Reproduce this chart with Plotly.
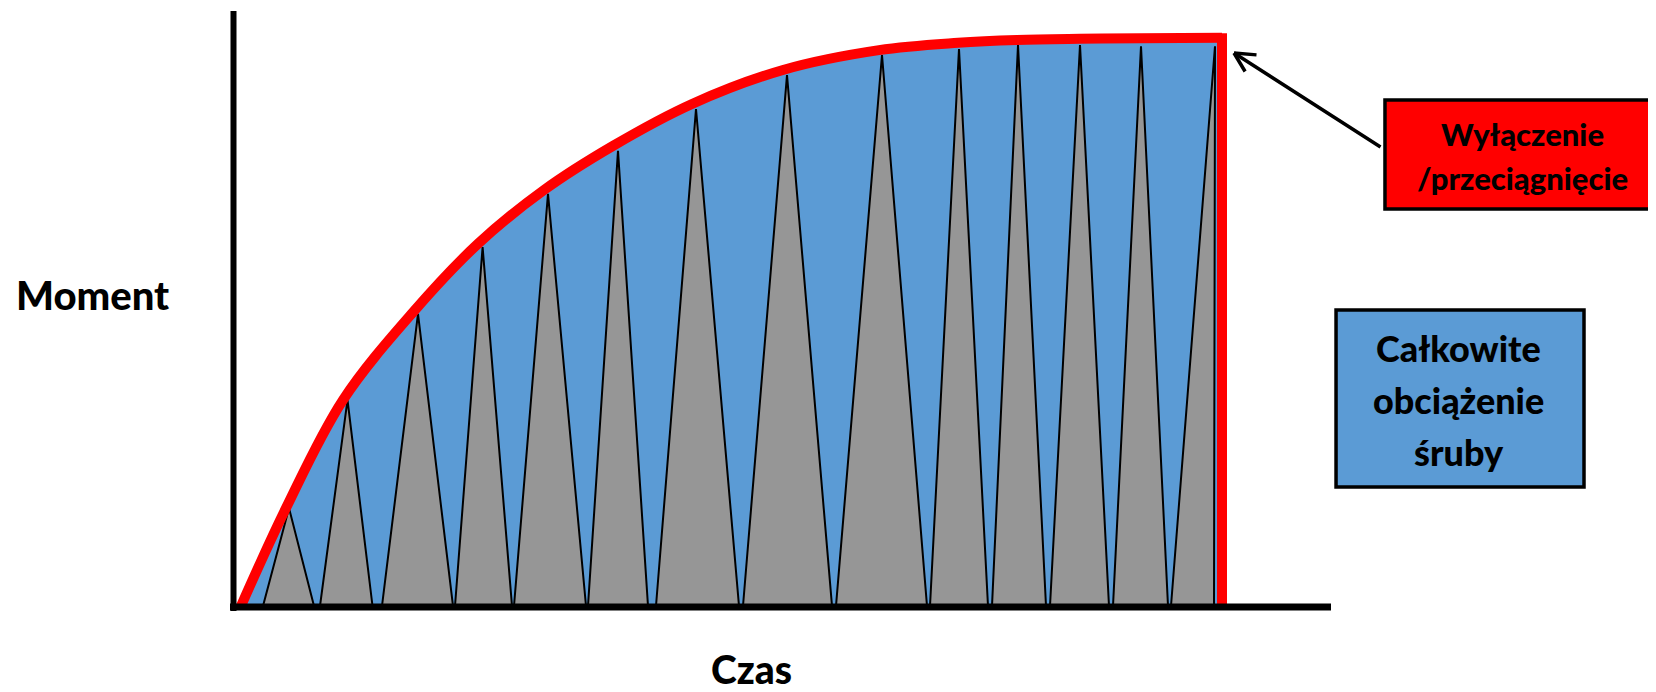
import plotly.graph_objects as go

# ---- Data (time in arbitrary units, moment in % of final torque) ----
# Envelope: total bolt load (red curve)
envelope_t = [0.5, 5.0, 10.7, 17.8, 24.2, 30.8, 37.7, 45.6, 54.7, 64.3, 72.2, 78.1, 84.4, 90.5, 98.6]
envelope_m = [0.0, 17.3, 36.4, 52.1, 64.0, 73.5, 81.3, 88.7, 94.7, 98.2, 99.5, 100.0, 100.2, 100.3, 100.4]
shutoff_t = 98.6
shutoff_top = 101.2

# Impact pulses (grey triangles)
pulse_start = [2.7, 8.4, 14.6, 21.9, 27.8, 35.2, 42.0, 50.7, 60.0, 69.4, 75.6, 81.4, 87.7, 93.5]
pulse_peak_t = [5.3, 11.15, 18.2, 24.66, 31.2, 38.2, 46.0, 55.1, 64.6, 72.3, 78.2, 84.4, 90.5, 97.9]
pulse_peak_m = [17.3, 36.4, 51.6, 63.4, 72.8, 80.4, 87.8, 93.8, 97.35, 98.4, 99.1, 99.1, 98.9, 98.9]
pulse_end = [7.8, 13.65, 21.7, 27.6, 35.0, 41.2, 50.3, 59.6, 69.1, 75.2, 81.0, 87.3, 93.2, 97.8]

# Text
y_label = "Moment"
x_label = "Czas"
shutoff_label = ["Wyłączenie", "/przeciągnięcie"]
load_label = ["Całkowite", "obciążenie", "śruby"]

BLUE = "#5B9BD5"
GREY = "#969696"
RED = "#FF0000"
FONT = "Lato"

fig = go.Figure()

# Blue area under the envelope
fig.add_trace(go.Scatter(
    x=envelope_t, y=envelope_m, mode="lines", fill="tozeroy",
    fillcolor=BLUE, line=dict(width=0, shape="spline", color=BLUE),
    hoverinfo="skip"))

# Grey triangles
for s, pt, pm, e in zip(pulse_start, pulse_peak_t, pulse_peak_m, pulse_end):
    fig.add_trace(go.Scatter(
        x=[s, pt, e, s], y=[0, pm, 0, 0], mode="lines", fill="toself",
        fillcolor=GREY, line=dict(color="black", width=2),
        hoverinfo="skip"))

# Red envelope line and shut-off line
fig.add_trace(go.Scatter(
    x=envelope_t, y=envelope_m, mode="lines",
    line=dict(color=RED, width=10, shape="spline"), hoverinfo="skip"))
fig.add_trace(go.Scatter(
    x=[shutoff_t, shutoff_t], y=[shutoff_top, 0], mode="lines",
    line=dict(color=RED, width=10), hoverinfo="skip"))

# Axes drawn as thick black lines
shapes = [
    dict(type="line", xref="x", yref="y", x0=-0.6, x1=109.5, y0=-0.18, y1=-0.18,
         line=dict(color="black", width=7), layer="above"),
    dict(type="line", xref="x", yref="y", x0=-0.25, x1=-0.25, y0=-0.9, y1=105.1,
         line=dict(color="black", width=6), layer="above"),
    # red label box
    dict(type="rect", xref="paper", yref="paper", x0=1.0348, x1=1.2741, y0=0.6672, y1=0.8477,
         fillcolor=RED, line=dict(color="black", width=3.5)),
    # blue label box
    dict(type="rect", xref="paper", yref="paper", x0=0.9911, x1=1.2125, y0=0.207, y1=0.5,
         fillcolor=BLUE, line=dict(color="black", width=3.5)),
]

# arrow pointing at the shut-off point (shaft + two open arms)
head_t, head_m = 99.8, 97.7
arrow_parts = [(148, 95), (24, 2), (12, 20)]

annotations = [
    dict(text=y_label, xref="paper", yref="paper", x=-0.1192, y=0.5248,
         xanchor="center", yanchor="middle", showarrow=False,
         font=dict(family=FONT, size=40, color="black", weight=900)),
    dict(text=x_label, xref="paper", yref="paper", x=0.46875, y=-0.0944,
         xanchor="center", yanchor="middle", showarrow=False,
         font=dict(family=FONT, size=39, color="black", weight=900)),
]
for axp, ayp in arrow_parts:
    annotations.append(dict(text="", x=head_t, y=head_m, xref="x", yref="y", ax=axp, ay=ayp,
                            showarrow=True, arrowhead=0, arrowwidth=3.5, arrowcolor="black"))
for txt, yp in zip(shutoff_label, [0.7915, 0.7185]):
    annotations.append(dict(text=txt, xref="paper", yref="paper", x=1.158, y=yp,
                            xanchor="center", yanchor="middle", showarrow=False,
                            font=dict(family=FONT, size=31, color="black", weight=900)))
for txt, yp in zip(load_label, [0.437, 0.351, 0.265]):
    annotations.append(dict(text=txt, xref="paper", yref="paper", x=1.1005, y=yp,
                            xanchor="center", yanchor="middle", showarrow=False,
                            font=dict(family=FONT, size=36, color="black", weight=900)))

# The page body adds an 8px offset, so the figure is 8px smaller on each side
fig.update_layout(
    width=1640, height=676,
    margin=dict(l=218, r=302, t=0, b=72),
    paper_bgcolor="white", plot_bgcolor="white",
    showlegend=False,
    xaxis=dict(range=[-1, 111], visible=False, fixedrange=True),
    yaxis=dict(range=[-1.06, 105.65], visible=False, fixedrange=True),
    shapes=shapes, annotations=annotations,
)

fig.write_html("out.html")
